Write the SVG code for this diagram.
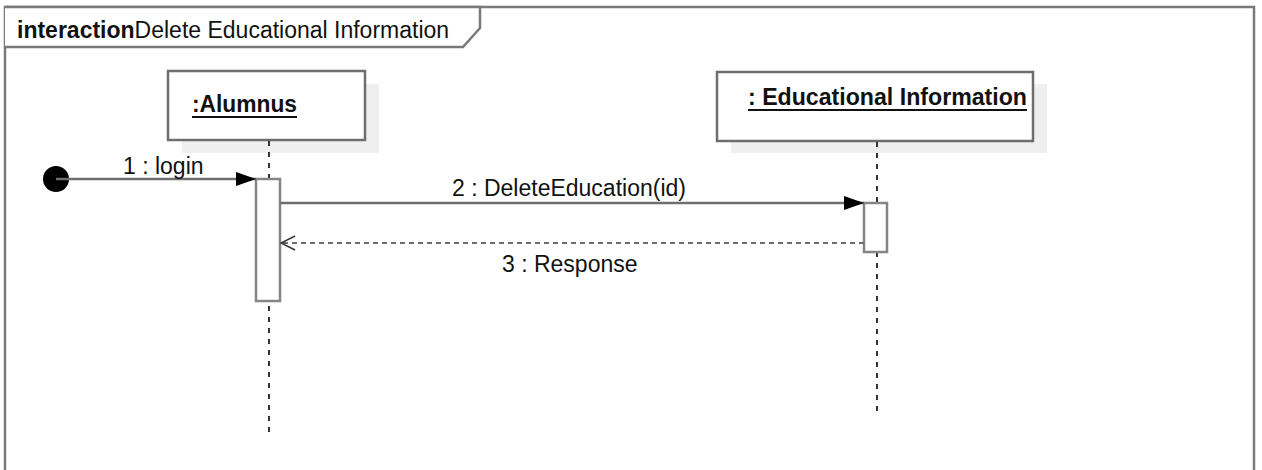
<svg xmlns="http://www.w3.org/2000/svg" width="1262" height="470" viewBox="0 0 1262 470">
  <defs>
    <marker id="filled" viewBox="0 0 20 14" refX="20" refY="7" markerWidth="20" markerHeight="14" markerUnits="userSpaceOnUse" orient="auto">
      <path d="M0,0 L20,7 L0,14 Z" fill="#000"/>
    </marker>
    <marker id="open" viewBox="0 0 16 16" refX="15" refY="8" markerWidth="16" markerHeight="16" markerUnits="userSpaceOnUse" orient="auto">
      <path d="M1,1 L15,8 L1,15" fill="none" stroke="#333" stroke-width="1.5"/>
    </marker>
    <style>
      .frame { fill: #fff; stroke: #7a7a7a; stroke-width: 2.5; }
      .head { fill: #fff; stroke: #7a7a7a; stroke-width: 2.5; }
      .shadow { fill: #efefef; }
      .box { fill: #fff; stroke: #6e6e6e; stroke-width: 2.5; }
      .act { fill: #fff; stroke: #858585; stroke-width: 2.5; }
      .life { stroke: #333; stroke-width: 2; stroke-dasharray: 5 6; fill: none; }
      .msg { stroke: #6e6e6e; stroke-width: 2.5; fill: none; }
      .ret { stroke: #6e6e6e; stroke-width: 2; stroke-dasharray: 5 4; fill: none; }
      .t { font-family: "Liberation Sans", Arial, sans-serif; font-size: 23px; fill: #111; }
      .b { font-weight: bold; }
      .ul { stroke: #111; stroke-width: 2; }
    </style>
  </defs>

  <!-- interaction frame -->
  <g id="frame">
    <rect class="frame" x="5" y="7" width="1249" height="480"/>
    <path class="head" d="M5,7 L480,7 L480,28 L463,47 L5,47"/>
    <text class="t" x="17" y="38"><tspan class="b">interaction</tspan>Delete Educational Information</text>
  </g>

  <!-- lifeline: Alumnus -->
  <g id="alumnus">
    <rect class="shadow" x="182" y="84" width="197" height="69"/>
    <rect class="box" x="168" y="71" width="197" height="69"/>
    <text class="t b" x="192" y="112" textLength="105" lengthAdjust="spacingAndGlyphs">:Alumnus</text>
    <line class="ul" x1="192" y1="117" x2="297" y2="117"/>
    <line class="life" x1="269" y1="141" x2="269" y2="432"/>
    <rect class="act" x="256" y="179" width="24" height="122"/>
  </g>

  <!-- lifeline: Educational Information -->
  <g id="education">
    <rect class="shadow" x="731" y="84" width="316" height="69"/>
    <rect class="box" x="717" y="72" width="316" height="69"/>
    <text class="t b" x="748" y="105" textLength="279" lengthAdjust="spacingAndGlyphs">: Educational Information</text>
    <line class="ul" x1="748" y1="110" x2="1027" y2="110"/>
    <line class="life" x1="877" y1="142" x2="877" y2="416"/>
    <rect class="act" x="864" y="203" width="23" height="49"/>
  </g>

  <!-- found message start -->
  <g id="start">
    <circle cx="56" cy="179" r="13" fill="#000"/>
  </g>

  <!-- messages -->
  <g id="connectors">
    <line class="msg" x1="56" y1="179" x2="256" y2="179" marker-end="url(#filled)"/>
    <text class="t" x="123" y="174">1 : login</text>
    <line class="msg" x1="280" y1="203" x2="864" y2="203" marker-end="url(#filled)"/>
    <text class="t" x="452" y="196">2 : DeleteEducation(id)</text>
    <line class="ret" x1="864" y1="243" x2="281" y2="243" marker-end="url(#open)"/>
    <text class="t" x="502" y="272">3 : Response</text>
  </g>
</svg>
